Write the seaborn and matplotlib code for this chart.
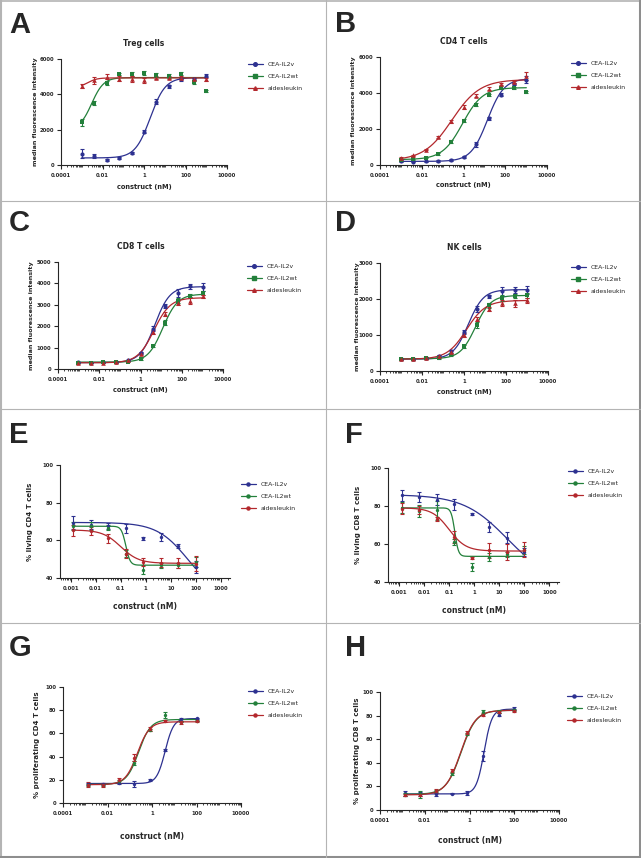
#!/usr/bin/env python3
"""Eight-panel dose-response figure: CEA-IL2v vs CEA-IL2wt vs aldesleukin."""

import matplotlib

matplotlib.use("Agg")

import matplotlib.pyplot as plt
import numpy as np
import seaborn as sns
from matplotlib.lines import Line2D
from matplotlib.ticker import FixedLocator, FuncFormatter, LogLocator, NullFormatter

W, H = 641, 858

SERIES = ["CEA-IL2v", "CEA-IL2wt", "aldesleukin"]
COLORS = ["#2d3190", "#23803b", "#b3282d"]

# concentrations (nM)
MFI_CONC = [0.000977, 0.0039, 0.0156, 0.0625, 0.25, 1, 4, 16, 64, 256, 1024]
PCT_CONC = [0.00128, 0.0064, 0.032, 0.16, 0.8, 4, 20, 100]

# A - Treg cells, median fluorescence intensity
TREG_IL2V = [640, 490, 300, 410, 675, 1890, 3580, 4460, 4860, 4890, 5060]
TREG_IL2V_ERR = [250, 120, 60, 50, 60, 80, 150, 80, 80, 60, 80]
TREG_IL2WT = [2420, 3490, 4650, 5140, 5140, 5210, 5080, 5020, 5170, 4690, 4200]
TREG_IL2WT_ERR = [200, 120, 120, 60, 100, 120, 100, 120, 100, 80, 50]
TREG_ALD = [4460, 4800, 4990, 4890, 4860, 4800, 4950, 4930, 4930, 4890, 4840]
TREG_ALD_ERR = [100, 200, 150, 120, 150, 150, 100, 80, 80, 60, 100]

# B - CD4 T cells
CD4_IL2V = [205, 185, 205, 224, 280, 447, 1155, 2590, 3895, 4490, 4730]
CD4_IL2V_ERR = [40, 40, 40, 40, 40, 60, 150, 100, 80, 60, 200]
CD4_IL2WT = [260, 317, 410, 596, 1300, 2460, 3350, 3895, 4305, 4300, 4060]
CD4_IL2WT_ERR = [40, 40, 40, 50, 80, 80, 80, 60, 80, 60, 50]
CD4_ALD = [390, 540, 857, 1550, 2420, 3240, 3860, 4250, 4510, 4600, 4960]
CD4_ALD_ERR = [40, 40, 50, 60, 80, 120, 60, 60, 60, 60, 220]

# C - CD8 T cells
CD8_IL2V = [310, 300, 320, 350, 400, 740, 1890, 2950, 3550, 3860, 3830]
CD8_IL2V_ERR = [30, 30, 30, 30, 40, 60, 100, 80, 200, 100, 200]
CD8_IL2WT = [300, 300, 310, 330, 350, 480, 1080, 2170, 3200, 3430, 3540]
CD8_IL2WT_ERR = [30, 30, 30, 30, 30, 40, 60, 100, 120, 80, 100]
CD8_ALD = [280, 290, 300, 320, 400, 700, 1740, 2580, 3090, 3200, 3400]
CD8_ALD_ERR = [30, 30, 30, 30, 30, 60, 100, 100, 100, 150, 80]

# D - NK cells
NK_IL2V = [335, 335, 365, 410, 550, 1090, 1715, 2070, 2210, 2255, 2255]
NK_IL2V_ERR = [30, 30, 30, 30, 40, 60, 80, 50, 120, 80, 120]
NK_IL2WT = [335, 335, 360, 370, 440, 690, 1280, 1820, 2020, 2080, 2100]
NK_IL2WT_ERR = [30, 30, 30, 30, 30, 40, 80, 60, 80, 60, 80]
NK_ALD = [330, 340, 360, 420, 530, 1000, 1450, 1715, 1880, 1880, 1960]
NK_ALD_ERR = [30, 30, 30, 30, 40, 60, 60, 60, 80, 100, 60]

# E - % living CD4 T cells
LIV4_IL2V = [69.3, 68.4, 67.7, 66.3, 61.0, 61.8, 56.9, 45.9]
LIV4_IL2V_ERR = [3.5, 2.5, 1.5, 2.5, 0.8, 2.0, 1.0, 3.0]
LIV4_IL2WT = [67.5, 67.5, 66.8, 53.0, 44.4, 46.7, 46.7, 48.5]
LIV4_IL2WT_ERR = [2, 2, 1.5, 2, 2.5, 1.5, 1.5, 2.5]
LIV4_ALD = [65.4, 65.0, 61.0, 53.0, 48.5, 48.2, 48.0, 47.6]
LIV4_ALD_ERR = [3, 2, 2.5, 2.5, 2, 2.5, 2.5, 4]

# F - % living CD8 T cells
LIV8_IL2V = [85.6, 84.7, 83.3, 80.9, 76.0, 69.0, 63.3, 55.8]
LIV8_IL2V_ERR = [3, 2.5, 3, 3, 0.5, 2.5, 3, 2]
LIV8_IL2WT = [79.1, 77.4, 77.7, 61.0, 47.9, 53.2, 54.5, 56.7]
LIV8_IL2WT_ERR = [3, 3, 5, 1.5, 2, 2, 1.5, 2]
LIV8_ALD = [78.6, 78.0, 73.3, 63.7, 52.8, 56.7, 55.8, 57.0]
LIV8_ALD_ERR = [3, 2, 1, 3, 0.5, 4, 4, 4]

# G - % proliferating CD4 T cells
PRO4_IL2V = [16.6, 16.6, 17.0, 16.6, 20.0, 45.7, 72.0, 72.9]
PRO4_IL2V_ERR = [1, 1, 0.5, 2.5, 1, 1, 1, 0.5]
PRO4_IL2WT = [15.7, 15.7, 18.6, 34.3, 62.9, 75.7, 70.0, 70.9]
PRO4_IL2WT_ERR = [1, 1, 1, 1.5, 1, 2.5, 0.5, 0.5]
PRO4_ALD = [15.7, 15.7, 19.4, 39.0, 63.7, 70.6, 69.4, 70.6]
PRO4_ALD_ERR = [2, 1.5, 2, 3, 1.5, 1, 1, 0.5]

# H - % proliferating CD8 T cells
PRO8_IL2V = [14.1, 13.5, 13.2, 13.8, 14.6, 45.9, 80.8, 85.9]
PRO8_IL2V_ERR = [2, 1.5, 1.5, 0.5, 1.5, 4, 1.5, 1]
PRO8_IL2WT = [13.2, 13.5, 16.0, 31.0, 64.2, 83.1, 83.4, 84.5]
PRO8_IL2WT_ERR = [1, 3, 1, 1, 1, 2, 1, 1]
PRO8_ALD = [12.7, 12.7, 16.0, 33.0, 65.6, 80.8, 83.1, 84.0]
PRO8_ALD_ERR = [1, 1, 1.5, 2, 1, 1, 1, 1]

# fitted 4PL curves: [value at low dose, value at high dose, EC50, Hill]
TREG_FITS = [[400, 4950, 2.0, 1.2], [2000, 4950, 0.003, 1.5], [4400, 4930, 0.002, 2.0]]
CD4_FITS = [[200, 4800, 14, 1.1], [300, 4300, 0.9, 0.9], [250, 4750, 0.28, 0.65]]
CD8_FITS = [[300, 3850, 5, 1.2], [320, 3500, 12, 1.2], [290, 3330, 4.5, 1.1]]
NK_FITS = [[330, 2260, 1.6, 1.2], [340, 2100, 3.5, 1.2], [330, 1960, 1.3, 0.95]]
LIV4_FITS = [[69.5, 30, 50, 0.7], [67.5, 46.8, 0.16, 5], [65.5, 47.8, 0.1, 1.2]]
LIV8_FITS = [[86, 40, 20, 0.5], [79, 53.5, 0.17, 6], [79, 56.3, 0.1, 1.3]]
PRO4_FITS = [[16.8, 72.8, 3.9, 2.3], [16, 72, 0.25, 1.6], [15.8, 70, 0.22, 1.6]]
PRO8_FITS = [[13.6, 85.5, 4.5, 2.5], [13.3, 84.5, 0.42, 1.3], [12.8, 84.5, 0.40, 1.3]]

MFI_MARKERS = [("o", 9), ("s", 8), ("^", 11)]
PCT_MARKERS = [("o", 6), ("o", 6), ("o", 6)]

# layout in pixels: axes box (left, top, right, bottom)
PANELS = [
    dict(letter="A", lpos=(9, 33), box=(61, 59, 227, 165), conc=MFI_CONC,
         vals=[TREG_IL2V, TREG_IL2WT, TREG_ALD], errs=[TREG_IL2V_ERR, TREG_IL2WT_ERR, TREG_ALD_ERR],
         fits=TREG_FITS, title="Treg cells", ylabel="median fluorescence intensity",
         ylim=(0, 6000), yticks=[0, 2000, 4000, 6000], ylab_x=35, xlab_y=187, leg=(248, 62)),
    dict(letter="B", lpos=(335, 32), box=(380, 57, 547, 165), conc=MFI_CONC,
         vals=[CD4_IL2V, CD4_IL2WT, CD4_ALD], errs=[CD4_IL2V_ERR, CD4_IL2WT_ERR, CD4_ALD_ERR],
         fits=CD4_FITS, title="CD4 T cells", ylabel="median fluorescence intensity",
         ylim=(0, 6000), yticks=[0, 2000, 4000, 6000], ylab_x=353, xlab_y=185, leg=(571, 61)),
    dict(letter="C", lpos=(9, 231), box=(58, 262, 223, 369), conc=MFI_CONC,
         vals=[CD8_IL2V, CD8_IL2WT, CD8_ALD], errs=[CD8_IL2V_ERR, CD8_IL2WT_ERR, CD8_ALD_ERR],
         fits=CD8_FITS, title="CD8 T cells", ylabel="median fluorescence intensity",
         ylim=(0, 5000), yticks=[0, 1000, 2000, 3000, 4000, 5000], ylab_x=32, xlab_y=390, leg=(247, 264)),
    dict(letter="D", lpos=(335, 231), box=(380, 263, 548, 371), conc=MFI_CONC,
         vals=[NK_IL2V, NK_IL2WT, NK_ALD], errs=[NK_IL2V_ERR, NK_IL2WT_ERR, NK_ALD_ERR],
         fits=NK_FITS, title="NK cells", ylabel="median fluorescence intensity",
         ylim=(0, 3000), yticks=[0, 1000, 2000, 3000], ylab_x=357, xlab_y=392, leg=(571, 265)),
    dict(letter="E", lpos=(9, 443), box=(60, 465, 230, 578), conc=PCT_CONC,
         vals=[LIV4_IL2V, LIV4_IL2WT, LIV4_ALD], errs=[LIV4_IL2V_ERR, LIV4_IL2WT_ERR, LIV4_ALD_ERR],
         fits=LIV4_FITS, title="", ylabel="% living CD4 T cells",
         ylim=(40, 100), yticks=[40, 60, 80, 100], ylab_x=30, xlab_y=606, leg=(241, 482)),
    dict(letter="F", lpos=(345, 443), box=(388, 468, 559, 582), conc=PCT_CONC,
         vals=[LIV8_IL2V, LIV8_IL2WT, LIV8_ALD], errs=[LIV8_IL2V_ERR, LIV8_IL2WT_ERR, LIV8_ALD_ERR],
         fits=LIV8_FITS, title="", ylabel="% living CD8 T cells",
         ylim=(40, 100), yticks=[40, 60, 80, 100], ylab_x=358, xlab_y=610, leg=(568, 469)),
    dict(letter="G", lpos=(9, 656), box=(63, 687, 241, 803), conc=PCT_CONC,
         vals=[PRO4_IL2V, PRO4_IL2WT, PRO4_ALD], errs=[PRO4_IL2V_ERR, PRO4_IL2WT_ERR, PRO4_ALD_ERR],
         fits=PRO4_FITS, title="", ylabel="% proliferating CD4 T cells",
         ylim=(0, 100), yticks=[0, 20, 40, 60, 80, 100], ylab_x=37, xlab_y=836, leg=(248, 689)),
    dict(letter="H", lpos=(345, 656), box=(380, 692, 559, 810), conc=PCT_CONC,
         vals=[PRO8_IL2V, PRO8_IL2WT, PRO8_ALD], errs=[PRO8_IL2V_ERR, PRO8_IL2WT_ERR, PRO8_ALD_ERR],
         fits=PRO8_FITS, title="", ylabel="% proliferating CD8 T cells",
         ylim=(0, 100), yticks=[0, 20, 40, 60, 80, 100], ylab_x=357, xlab_y=841, leg=(567, 694)),
]


def four_pl(x, p):
    low, high, ec50, hill = p
    return high + (low - high) / (1 + (x / ec50) ** hill)


def draw_borders(fig):
    bg = fig.add_axes([0, 0, 1, 1], zorder=-1)
    bg.set_xlim(0, W)
    bg.set_ylim(H, 0)
    bg.axis("off")
    light = "#b4b4b4"
    bg.plot([1, 1], [0, H], color=light, lw=1.5)
    bg.plot([0, W], [0.7, 0.7], color=light, lw=1.2)
    bg.plot([639.5, 639.5], [0, H], color="#8e8e8e", lw=2.2)
    bg.plot([0, W], [856.5, 856.5], color="#8e8e8e", lw=2.2)
    bg.plot([326, 326], [0, H], color=light, lw=0.8)
    for y in (201, 409, 623):
        bg.plot([0, W], [y, y], color=light, lw=0.8)
    return bg


def draw_panel(fig, bg, p):
    left, top, right, bottom = p["box"]
    ax = fig.add_axes([left / W, 1 - bottom / H, (right - left) / W, (bottom - top) / H])
    ax.set_xscale("log")
    mfi = p["conc"] is MFI_CONC
    if mfi:
        ax.set_xlim(1e-4, 1e4)
        majors = [1e-4, 1e-2, 1, 1e2, 1e4]
        markers = MFI_MARKERS
    elif p["letter"] in "EF":
        ax.set_xlim(3.7e-4, 2.4e3)
        majors = [1e-3, 1e-2, 1e-1, 1, 10, 100, 1000]
        markers = PCT_MARKERS
    else:
        ax.set_xlim(1e-4, 1e4)
        majors = [1e-4, 1e-2, 1, 1e2, 1e4]
        markers = PCT_MARKERS

    conc = np.array(p["conc"])
    xs = np.logspace(np.log10(conc[0]), np.log10(conc[-1]), 300)
    for i in range(3):
        color = COLORS[i]
        sns.lineplot(x=xs, y=four_pl(xs, p["fits"][i]), ax=ax, color=color,
                     lw=0.9, legend=False, zorder=3)
        ax.errorbar(conc, p["vals"][i], yerr=p["errs"][i], fmt="none", ecolor=color,
                    elinewidth=0.8, capsize=1.6, capthick=0.8, zorder=4)
        sns.scatterplot(x=conc, y=p["vals"][i], ax=ax, color=color, marker=markers[i][0],
                        s=markers[i][1], linewidth=0, zorder=5, legend=False)

    ax.set_ylim(*p["ylim"])
    ax.yaxis.set_major_locator(FixedLocator(p["yticks"]))
    ax.xaxis.set_major_locator(FixedLocator(majors))
    ax.xaxis.set_major_formatter(FuncFormatter(lambda v, _: f"{v:g}"))
    ax.xaxis.set_minor_locator(LogLocator(base=10, subs=np.arange(1, 10), numticks=30))
    ax.xaxis.set_minor_formatter(NullFormatter())
    sns.despine(ax=ax)
    for s in ("left", "bottom"):
        ax.spines[s].set_linewidth(0.8)
    ax.tick_params(axis="both", which="major", length=3, width=0.8, labelsize=3.8)
    ax.tick_params(axis="x", which="major", pad=3)
    ax.tick_params(axis="y", which="major", pad=2)
    ax.tick_params(axis="x", which="minor", length=1.6, width=0.6)
    ax.set_facecolor("none")

    if p["title"]:
        ax.set_title(p["title"], fontsize=5.5, fontweight="bold", pad=9.5)

    ax.set_xlabel("construct (nM)", fontsize=4.8 if mfi else 5.5, fontweight="bold")
    ax.xaxis.label.set_va("center")
    ax.xaxis.set_label_coords(0.5, (bottom - p["xlab_y"]) / (bottom - top))
    ax.set_ylabel(p["ylabel"], fontsize=4.6 if mfi else 5.0, fontweight="bold")
    ax.yaxis.label.set_va("center")
    ax.yaxis.set_label_coords((p["ylab_x"] - left) / (right - left), 0.5)

    handles = [Line2D([], [], color=COLORS[i], lw=0.9, marker=markers[i][0],
                      markersize=2.6 if mfi else 2.2) for i in range(3)]
    lx, ly = p["leg"]
    ax.legend(handles, SERIES, loc="upper left", bbox_to_anchor=(lx / W, 1 - ly / H),
              bbox_transform=fig.transFigure, frameon=False, borderpad=0, borderaxespad=0,
              handlelength=2.4, handletextpad=0.8, labelspacing=1.05,
              prop={"size": 4.4, "weight": "normal"})

    bg.text(p["lpos"][0], p["lpos"][1], p["letter"], fontsize=21, fontweight="bold",
            family="Liberation Sans", va="baseline", ha="left")


def main():
    sns.set_theme(style="ticks")
    plt.rcParams["font.family"] = ["DejaVu Sans"]
    plt.rcParams["font.weight"] = "bold"
    fig = plt.figure(figsize=(W / 100, H / 100), dpi=100)
    fig.patch.set_facecolor("white")
    bg = draw_borders(fig)
    for p in PANELS:
        draw_panel(fig, bg, p)
    fig.savefig("out.png", dpi=100)


if __name__ == "__main__":
    main()
